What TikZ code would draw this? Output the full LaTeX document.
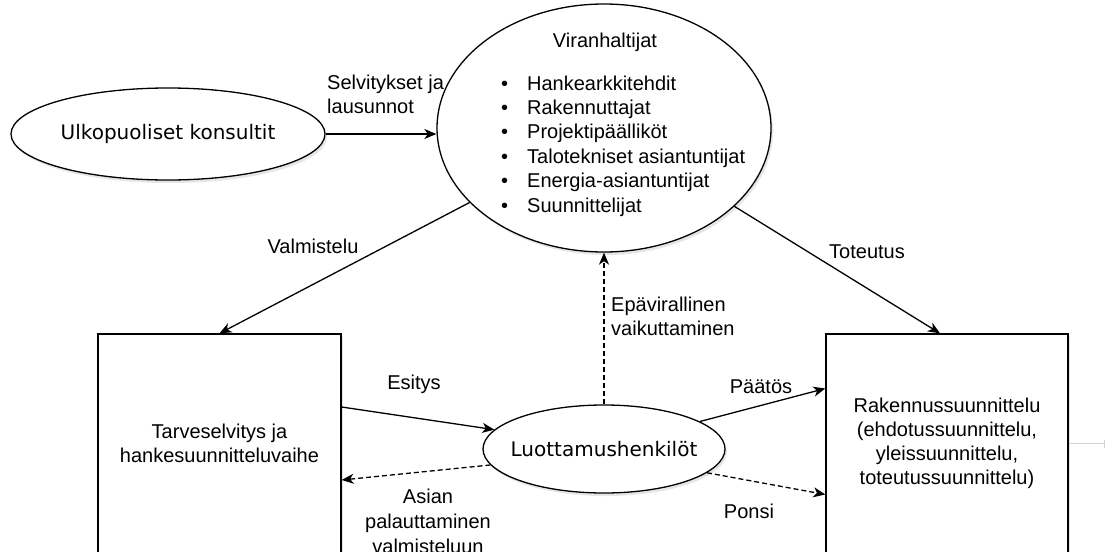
\documentclass[tikz,border=0pt]{standalone}
\usepackage{fontspec}
\setmainfont{Liberation Sans}
\newfontfamily\actorfont{DejaVu Sans}
\usetikzlibrary{arrows.meta,shapes.geometric,shadows,calc}

\newcommand{\viritem}[1]{\makebox[26pt][l]{\textbullet}#1}

\begin{document}
\begin{tikzpicture}[x=1pt, y=-1pt,
  every node/.style={font=\fontsize{20}{24}\selectfont, inner sep=0pt},
  shade/.style={drop shadow={opacity=0.2, shadow xshift=2pt, shadow yshift=-3pt}},
  actor/.style={ellipse, draw, line width=1.3pt, fill=white, shade},
  actorlabel/.style={font=\actorfont\fontsize{20}{24}\selectfont},
  phase/.style={rectangle, draw, line width=1.3pt, fill=white, shade, align=center, minimum width=243pt, minimum height=219pt},
  flow/.style={-{Stealth[length=12pt,width=10pt,inset=3.5pt]}, line width=1.3pt},
  soft/.style={flow, dash pattern=on 5pt off 3pt},
  lbl/.style={align=left}
]
\clip (0,0) rectangle (1107,551);

\node[actor, minimum width=334pt, minimum height=248pt] (vir) at (604,128) {};
\node (virtitle) at (605,42) {Viranhaltijat};
\node[lbl, anchor=west, font=\fontsize{20}{24.4}\selectfont] (virlist) at (501,146)
  {\viritem{Hankearkkitehdit}\\\viritem{Rakennuttajat}\\\viritem{Projektipäälliköt}\\\viritem{Talotekniset asiantuntijat}\\\viritem{Energia-asiantuntijat}\\\viritem{Suunnittelijat}};

\node[actor, minimum width=314pt, minimum height=92pt, label={[actorlabel]center:Ulkopuoliset konsultit}] (ulko) at (168,134) {};
\node[actor, minimum width=242pt, minimum height=88pt, label={[actorlabel]center:Luottamushenkilöt}] (luot) at (604,449) {};

\node[phase] (tarve) at (219.5,443.5) {Tarveselvitys ja\\hankesuunnitteluvaihe};
\node[phase, minimum width=242pt] (rak) at (947,443.5) {Rakennussuunnittelu\\(ehdotussuunnittelu,\\yleissuunnittelu,\\toteutussuunnittelu)};

\coordinate (stubend) at (1105,443.5);
\draw[gray!35, line width=0.8pt, -{Bar[width=8pt]}] (rak.east) -- (stubend);

\draw[flow] (ulko.east) -- (ulko.east -| vir.west);
\draw[flow] (vir.209) -- (tarve.north);
\draw[flow] (vir.-31) -- ($(rak.north)+(-7,0)$);
\draw[flow] ($(tarve.east)+(0,-36.5)$) -- (luot.170);
\draw[soft] (luot.188) -- ($(tarve.east)+(0,36.5)$);
\draw[soft] (luot.north) -- (vir.south);
\draw[flow] (luot.16) -- ($(rak.west)+(0,-55)$);
\draw[soft] (luot.-13) -- ($(rak.west)+(0,51)$);

\node[lbl, anchor=west] (selv) at (327,94) {Selvitykset ja\\lausunnot};
\node (valm) at (313,246) {Valmistelu};
\node (tot) at (867,252) {Toteutus};
\node (esit) at (414,384) {Esitys};
\node[align=center, anchor=north, font=\fontsize{20}{25}\selectfont] (palaut) at (428,489) {Asian\\palauttaminen\\valmisteluun};
\node[lbl, anchor=west] (epav) at (611,316) {Epävirallinen\\vaikuttaminen};
\node (paat) at (761,387) {Päätös};
\node (ponsi) at (749,511) {Ponsi};
\end{tikzpicture}
\end{document}
